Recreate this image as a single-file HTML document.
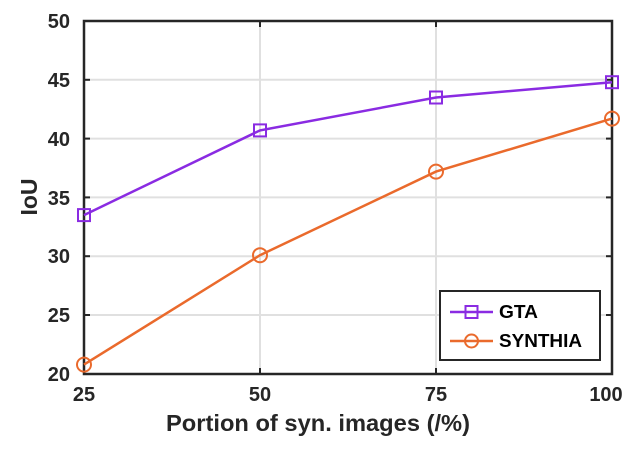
<!DOCTYPE html>
<html><head><style>body{margin:0;background:#fff}svg{display:block}</style></head><body>
<svg width="638" height="458" xmlns="http://www.w3.org/2000/svg" font-family="Liberation Sans, sans-serif" font-weight="bold">
<g stroke="#e0e0e0" stroke-width="2">
<line x1="84" y1="79.8" x2="612" y2="79.8"/><line x1="84" y1="138.6" x2="612" y2="138.6"/><line x1="84" y1="197.4" x2="612" y2="197.4"/><line x1="84" y1="256.2" x2="612" y2="256.2"/><line x1="84" y1="315" x2="612" y2="315"/>
<line x1="260" y1="21" x2="260" y2="374"/><line x1="436" y1="21" x2="436" y2="374"/>
</g>
<rect x="84" y="21" width="528" height="353" fill="none" stroke="#262626" stroke-width="2.5"/>
<g stroke="#262626" stroke-width="2">
<line x1="84" y1="79.8" x2="90" y2="79.8"/><line x1="84" y1="138.6" x2="90" y2="138.6"/><line x1="84" y1="197.4" x2="90" y2="197.4"/><line x1="84" y1="256.2" x2="90" y2="256.2"/><line x1="84" y1="315" x2="90" y2="315"/>
<line x1="612" y1="79.8" x2="606" y2="79.8"/><line x1="612" y1="138.6" x2="606" y2="138.6"/><line x1="612" y1="197.4" x2="606" y2="197.4"/><line x1="612" y1="256.2" x2="606" y2="256.2"/><line x1="612" y1="315" x2="606" y2="315"/>
<line x1="260" y1="374" x2="260" y2="368"/><line x1="436" y1="374" x2="436" y2="368"/><line x1="260" y1="21" x2="260" y2="27"/><line x1="436" y1="21" x2="436" y2="27"/>
</g>
<g font-size="20" fill="#262626" text-anchor="end">
<text x="70" y="28">50</text><text x="70" y="87">45</text><text x="70" y="146">40</text><text x="70" y="205">35</text><text x="70" y="263">30</text><text x="70" y="322">25</text><text x="70" y="381">20</text>
</g>
<g font-size="20" fill="#262626" text-anchor="middle">
<text x="84" y="401">25</text><text x="260" y="401">50</text><text x="436" y="401">75</text><text x="606" y="401">100</text>
</g>
<text x="166" y="431" font-size="23" fill="#262626" textLength="304" lengthAdjust="spacingAndGlyphs">Portion of syn. images (/%)</text>
<text transform="translate(37,197) rotate(-90)" font-size="23" fill="#262626" text-anchor="middle">IoU</text>
<polyline points="84,215.1 260,130.4 436,97.5 612,82.2" fill="none" stroke="#8a2be2" stroke-width="2.5"/>
<g fill="none" stroke="#8a2be2" stroke-width="2">
<rect x="78" y="209.1" width="12" height="12"/><rect x="254" y="124.4" width="12" height="12"/><rect x="430" y="91.5" width="12" height="12"/><rect x="606" y="76.2" width="12" height="12"/>
</g>
<polyline points="84,364.6 260,255.2 436,171.6 612,118.6" fill="none" stroke="#ea6a2c" stroke-width="2.5"/>
<g fill="none" stroke="#ea6a2c" stroke-width="2">
<circle cx="84" cy="364.6" r="7"/><circle cx="260" cy="255.2" r="7"/><circle cx="436" cy="171.6" r="7"/><circle cx="612" cy="118.6" r="7"/>
</g>
<rect x="440" y="291" width="160" height="69" fill="#fff" stroke="#262626" stroke-width="2"/>
<line x1="450" y1="312" x2="493" y2="312" stroke="#8a2be2" stroke-width="2.5"/>
<rect x="465.5" y="306" width="12" height="12" fill="none" stroke="#8a2be2" stroke-width="2"/>
<line x1="450" y1="341" x2="493" y2="341" stroke="#ea6a2c" stroke-width="2.5"/>
<circle cx="471.5" cy="341" r="6.5" fill="none" stroke="#ea6a2c" stroke-width="2"/>
<g font-size="18" fill="#000"><text x="499" y="318" textLength="39" lengthAdjust="spacingAndGlyphs">GTA</text><text x="499" y="347" textLength="83" lengthAdjust="spacingAndGlyphs">SYNTHIA</text></g>
</svg>
</body></html>
